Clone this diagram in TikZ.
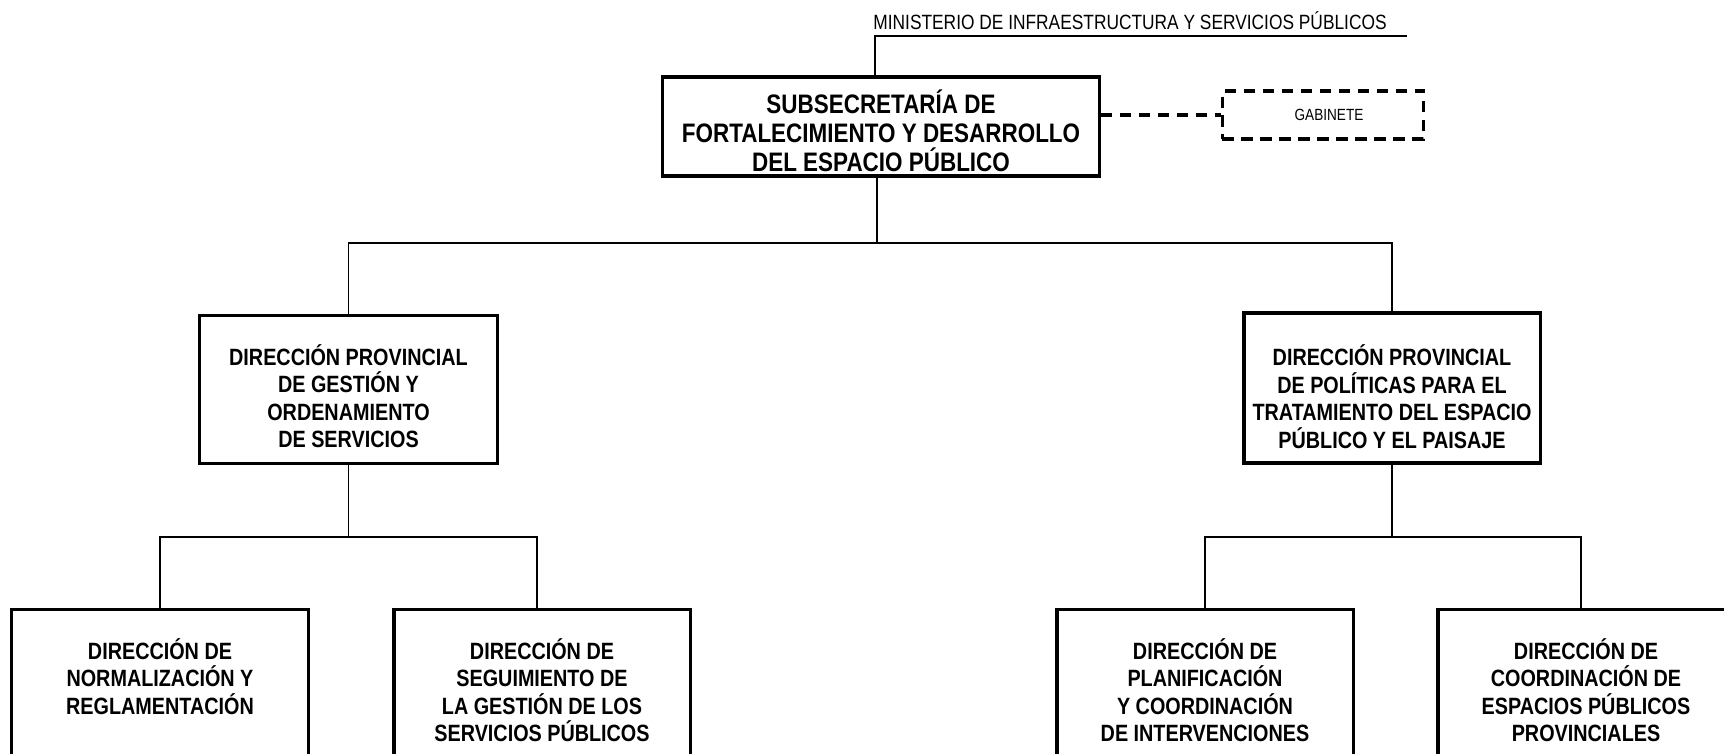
\documentclass[tikz,border=0pt]{standalone}
\usepackage{fontspec}
\setmainfont{Liberation Sans}[FakeStretch=0.84]
\usetikzlibrary{positioning}

% text block of fixed height, set from its top
\newcommand{\boxtext}[3]{\begin{minipage}[t][#1][t]{#2}\centering #3\end{minipage}}

\begin{document}
\begin{tikzpicture}[x=0.01cm,y=-0.01cm,
    unitbox/.style={draw,line width=0.9pt,inner xsep=0.085cm,
                    font=\bfseries\fontsize{6.7}{7.8}\selectfont},
    topbox/.style={unitbox,inner xsep=0.035cm,inner ysep=0.13cm,
                   font=\bfseries\fontsize{7.6}{8.2}\selectfont},
    provbox/.style={unitbox,inner ysep=0.29cm},
    lowbox/.style={unitbox,anchor=north,inner ysep=0.29cm},
    gabbox/.style={draw,line width=0.9pt,dash pattern=on 3.2pt off 2.2pt,
                   minimum width=2.01cm,minimum height=0.48cm,inner sep=0pt,
                   font=\fontsize{4.6}{5}\selectfont},
    link/.style={line width=0.4pt}]
      \useasboundingbox (0,0) rectangle (1724,753);

      \node[font=\fontsize{5.87}{6.5}\selectfont] (minis) at (1130,21)
            {MINISTERIO DE INFRAESTRUCTURA Y SERVICIOS PÚBLICOS};
      \coordinate (minisend) at (1407,36);

      \node[topbox] (subse) at (881,126.5)
            {\boxtext{0.73cm}{4.3cm}{SUBSECRETARÍA DE\\FORTALECIMIENTO Y DESARROLLO\\DEL ESPACIO PÚBLICO}};
      \node[gabbox] (gab) at (1323,115) {\hspace{0.12cm}GABINETE};

      \draw[link] ([xshift=-0.06cm]subse.north) |- (minisend);
      \draw[line width=0.9pt,dash pattern=on 3.2pt off 2.2pt] (subse.east |- gab.west) -- (gab.west);

%     direcciones provinciales
      \node[provbox] (dpgest) at (348.5,389.5)
            {\boxtext{0.90cm}{2.8cm}{DIRECCIÓN PROVINCIAL\\DE GESTIÓN Y\\ORDENAMIENTO\\DE SERVICIOS}};
      \node[provbox,inner ysep=0.32cm] (dppol) at (1392,388)
            {\boxtext{0.86cm}{2.79cm}{DIRECCIÓN PROVINCIAL\\DE POLÍTICAS PARA EL\\TRATAMIENTO DEL ESPACIO\\PÚBLICO Y EL PAISAJE}};

      \coordinate (bar1) at (877,243);
      \draw[link] (subse.south -| bar1) -- (bar1);
      \draw[link] (dpgest.north) |- (bar1) -| (dppol.north);

%     direcciones
      \node[lowbox] (dnorm)  at (160,608)
            {\boxtext{1.12cm}{2.8cm}{DIRECCIÓN DE\\NORMALIZACIÓN Y\\REGLAMENTACIÓN}};
      \node[lowbox] (dseg)   at (542,608)
            {\boxtext{1.12cm}{2.79cm}{DIRECCIÓN DE\\SEGUIMIENTO DE\\LA GESTIÓN DE LOS\\SERVICIOS PÚBLICOS}};
      \node[lowbox] (dplan)  at (1205,608)
            {\boxtext{1.12cm}{2.79cm}{DIRECCIÓN DE\\PLANIFICACIÓN\\Y COORDINACIÓN\\DE INTERVENCIONES}};
      \node[lowbox] (dcoord) at (1586,608)
            {\boxtext{1.12cm}{2.79cm}{DIRECCIÓN DE\\COORDINACIÓN DE\\ESPACIOS PÚBLICOS\\PROVINCIALES}};

      \coordinate (bar2) at (348.5,537);
      \coordinate (bar3) at (1392,537);
      \draw[link] (dpgest.south) -- (bar2);
      \draw[link] (dnorm.north) |- (bar2) -| ([xshift=-0.05cm]dseg.north);
      \draw[link] (dppol.south) -- (bar3);
      \draw[link] (dplan.north) |- (bar3) -| ([xshift=-0.05cm]dcoord.north);

    \end{tikzpicture}
\end{document}
